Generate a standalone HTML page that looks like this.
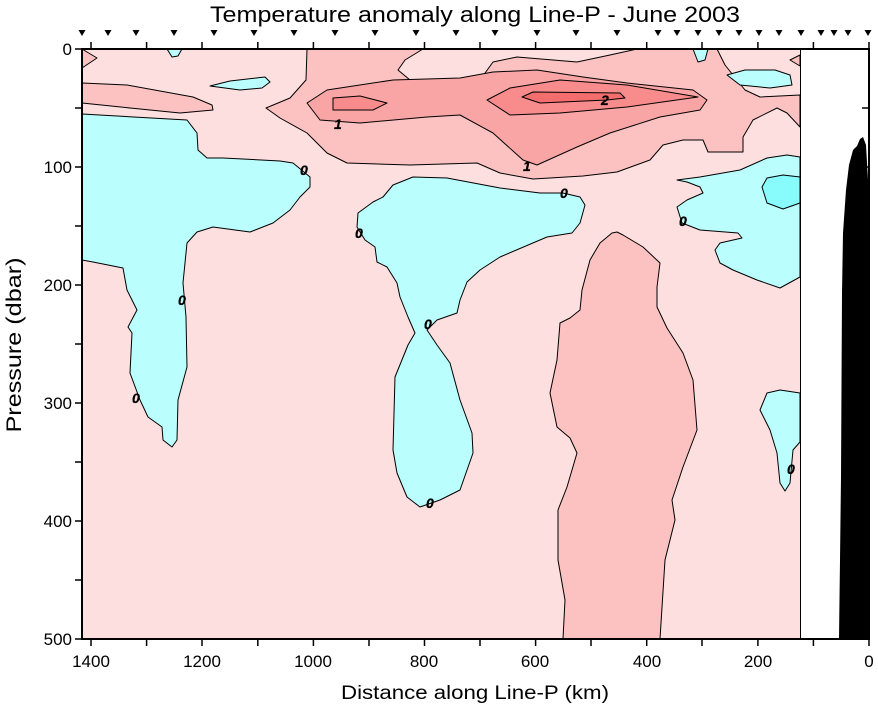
<!DOCTYPE html>
<html><head><meta charset="utf-8"><style>
html,body{margin:0;padding:0;background:#fff;}
svg{display:block;}
text{font-family:"Liberation Sans",Arial,sans-serif;fill:#000;}
</style></head><body>
<svg width="878" height="708" viewBox="0 0 878 708" xmlns="http://www.w3.org/2000/svg">
<g stroke="#000" stroke-width="1" stroke-linejoin="round">
<rect x="82" y="49" width="718" height="590" fill="#fddfdf" stroke="none"/>
<polygon fill="#fcc2c2" points="82,49 97,58 82,68"/>
<polygon fill="#fcc2c2" points="82,83 127,85 193,97 212,105 213,110 180,113 130,108 82,103"/>
<polygon fill="#fcc2c2" points="307,49 423,49 405,60 398,70 410,80 450,82 480,80 493,62 517,57 577,62 610,55 637,49 717,49 725,65 745,90 760,97 800,95 800,127 787,113 777,108 753,120 743,137 743,152 708,152 703,140 683,140 663,145 650,160 617,172 583,176 533,179 500,173 477,163 410,165 347,163 327,153 307,133 280,118 266,108 290,98 306,80"/>
<polygon fill="#fcc2c2" points="800,55 790,60 800,66"/>
<polygon fill="#f9a5a5" points="307,103 327,90 393,80 460,78 493,72 537,70 583,77 627,83 693,90 707,100 700,110 660,117 610,133 577,147 537,165 523,160 493,133 460,115 427,117 360,123 320,120"/>
<polygon fill="#f88b8b" points="333,98 360,96 387,103 373,110 333,110"/>
<polygon fill="#f88b8b" points="487,100 510,88 560,80 627,85 698,97 627,107 560,113 510,115"/>
<polygon fill="#f56e6e" points="522,97 533,92 620,93 625,98 607,100 540,103"/>
<polygon fill="#fcc2c2" points="612,233 617,232 623,235 643,247 660,263 657,287 657,307 667,328 683,353 693,380 697,430 683,467 672,500 675,520 665,560 660,639 563,639 565,600 558,560 558,510 567,487 577,453 570,438 557,427 550,393 557,360 560,323 570,318 580,310 582,290 590,260 600,243"/>
<polygon fill="#bbfefe" points="82,114 187,120 197,133 198,150 207,158 223,158 280,161 293,163 310,177 310,187 300,197 290,210 273,223 250,232 213,227 197,232 187,243 183,283 186,317 187,367 178,400 177,440 172,447 163,440 162,427 148,417 140,400 130,373 132,333 128,327 137,310 127,290 123,268 93,262 82,260"/>
<polygon fill="#bbfefe" points="167,49 182,49 178,56 172,57"/>
<polygon fill="#bbfefe" points="210,86 230,81 265,77 270,82 262,88 240,90 225,88"/>
<polygon fill="#bbfefe" points="393,185 413,177 447,178 500,188 540,193 563,193 580,197 585,205 580,223 572,233 547,237 500,257 480,270 467,282 460,300 457,313 437,320 427,330 437,345 450,363 460,400 472,433 473,453 460,490 440,500 420,507 407,497 397,473 393,450 395,377 408,345 415,333 408,317 400,297 397,283 387,267 377,262 375,247 365,240 357,227 358,213 373,202 383,197"/>
<polygon fill="#bbfefe" points="677,180 700,177 740,170 767,158 787,155 800,157 800,277 780,288 757,280 733,270 720,263 715,250 720,243 742,238 738,233 700,230 682,223 677,207 687,200 703,193 700,187 687,182"/>
<polygon fill="#88fcfc" points="762,187 767,178 783,175 800,177 800,203 783,209 767,203"/>
<polygon fill="#bbfefe" points="760,410 767,393 780,390 800,393 800,442 793,450 790,483 785,491 780,483 777,453 770,430"/>
<polygon fill="#bbfefe" points="693,49 708,49 705,60 698,62"/>
<polygon fill="#bbfefe" points="727,75 745,70 775,70 790,75 792,85 770,88 740,85"/>
</g>
<rect x="800.5" y="49" width="69" height="590" fill="#fff"/>
<line x1="800.5" y1="49" x2="800.5" y2="639" stroke="#000"/>
<polygon fill="#000" points="839,639 840,560 841,477 842,293 843,233 846,190 849,165 853,150 857,146 860,139 863,137 866,145 868,180 869,639"/>
<g font-size="14" font-weight="bold" font-style="italic" stroke="#000" stroke-width="0.3">
<text x="334" y="129">1</text>
<text x="523" y="171">1</text>
<text x="601" y="105">2</text>
<text x="300" y="175">0</text>
<text x="560" y="198">0</text>
<text x="355" y="238">0</text>
<text x="679" y="226">0</text>
<text x="178" y="305">0</text>
<text x="132" y="403">0</text>
<text x="424" y="329">0</text>
<text x="426" y="508">0</text>
<text x="787" y="474">0</text>
</g>
<g stroke="#000" stroke-width="2" fill="none">
<line x1="82" y1="49" x2="869" y2="49"/>
<line x1="82" y1="639" x2="869" y2="639"/>
<line x1="82" y1="48" x2="82" y2="640"/>
<line x1="869" y1="48" x2="869" y2="640"/>
</g>
<g stroke="#000" stroke-width="1.5">
<line x1="91" y1="49" x2="91" y2="42"/><line x1="146.6" y1="49" x2="146.6" y2="42"/><line x1="202" y1="49" x2="202" y2="42"/><line x1="257.8" y1="49" x2="257.8" y2="42"/><line x1="313.4" y1="49" x2="313.4" y2="42"/><line x1="369" y1="49" x2="369" y2="42"/><line x1="424.5" y1="49" x2="424.5" y2="42"/><line x1="480" y1="49" x2="480" y2="42"/><line x1="535.6" y1="49" x2="535.6" y2="42"/><line x1="591" y1="49" x2="591" y2="42"/><line x1="646.7" y1="49" x2="646.7" y2="42"/><line x1="702" y1="49" x2="702" y2="42"/><line x1="757.9" y1="49" x2="757.9" y2="42"/><line x1="813.4" y1="49" x2="813.4" y2="42"/><line x1="869" y1="49" x2="869" y2="42"/>
<line x1="91" y1="639" x2="91" y2="646"/><line x1="146.6" y1="639" x2="146.6" y2="646"/><line x1="202" y1="639" x2="202" y2="646"/><line x1="257.8" y1="639" x2="257.8" y2="646"/><line x1="313.4" y1="639" x2="313.4" y2="646"/><line x1="369" y1="639" x2="369" y2="646"/><line x1="424.5" y1="639" x2="424.5" y2="646"/><line x1="480" y1="639" x2="480" y2="646"/><line x1="535.6" y1="639" x2="535.6" y2="646"/><line x1="591" y1="639" x2="591" y2="646"/><line x1="646.7" y1="639" x2="646.7" y2="646"/><line x1="702" y1="639" x2="702" y2="646"/><line x1="757.9" y1="639" x2="757.9" y2="646"/><line x1="813.4" y1="639" x2="813.4" y2="646"/><line x1="869" y1="639" x2="869" y2="646"/>
<line x1="75" y1="49" x2="82" y2="49"/><line x1="75" y1="108" x2="82" y2="108"/><line x1="75" y1="167" x2="82" y2="167"/><line x1="75" y1="226" x2="82" y2="226"/><line x1="75" y1="285" x2="82" y2="285"/><line x1="75" y1="344" x2="82" y2="344"/><line x1="75" y1="403" x2="82" y2="403"/><line x1="75" y1="462" x2="82" y2="462"/><line x1="75" y1="521" x2="82" y2="521"/><line x1="75" y1="580" x2="82" y2="580"/><line x1="75" y1="639" x2="82" y2="639"/>
<line x1="862" y1="108" x2="869" y2="108"/><line x1="862" y1="167" x2="869" y2="167"/><line x1="862" y1="226" x2="869" y2="226"/><line x1="862" y1="285" x2="869" y2="285"/><line x1="862" y1="344" x2="869" y2="344"/><line x1="862" y1="403" x2="869" y2="403"/><line x1="862" y1="462" x2="869" y2="462"/><line x1="862" y1="521" x2="869" y2="521"/><line x1="862" y1="580" x2="869" y2="580"/>
</g>
<g fill="#000">
<path d="M78.5 30h7l-3.5 6z"/><path d="M104.5 30h7l-3.5 6z"/><path d="M132.5 30h7l-3.5 6z"/><path d="M170.5 30h7l-3.5 6z"/><path d="M210.5 30h7l-3.5 6z"/><path d="M250.5 30h7l-3.5 6z"/><path d="M290.5 30h7l-3.5 6z"/><path d="M331.5 30h7l-3.5 6z"/><path d="M371.5 30h7l-3.5 6z"/><path d="M412.5 30h7l-3.5 6z"/><path d="M452.5 30h7l-3.5 6z"/><path d="M491.5 30h7l-3.5 6z"/><path d="M533.5 30h7l-3.5 6z"/><path d="M572.5 30h7l-3.5 6z"/><path d="M613.5 30h7l-3.5 6z"/><path d="M654.5 30h7l-3.5 6z"/><path d="M673.5 30h7l-3.5 6z"/><path d="M694.5 30h7l-3.5 6z"/><path d="M715.5 30h7l-3.5 6z"/><path d="M735.5 30h7l-3.5 6z"/><path d="M755.5 30h7l-3.5 6z"/><path d="M775.5 30h7l-3.5 6z"/><path d="M797.5 30h7l-3.5 6z"/><path d="M817.5 30h7l-3.5 6z"/><path d="M830.5 30h7l-3.5 6z"/><path d="M844.5 30h7l-3.5 6z"/><path d="M864.5 30h7l-3.5 6z"/>
</g>
<text x="475" y="22" font-size="22" text-anchor="middle" textLength="530" lengthAdjust="spacingAndGlyphs">Temperature anomaly along Line-P - June 2003</text>
<g font-size="17" text-anchor="end">
<text x="72" y="55">0</text><text x="72" y="173">100</text><text x="72" y="291">200</text><text x="72" y="409">300</text><text x="72" y="527">400</text><text x="72" y="645">500</text>
</g>
<g font-size="17" text-anchor="middle">
<text x="91" y="667">1400</text><text x="202" y="667">1200</text><text x="313" y="667">1000</text><text x="424" y="667">800</text><text x="535" y="667">600</text><text x="647" y="667">400</text><text x="758" y="667">200</text><text x="869" y="667">0</text>
</g>
<text x="475" y="699" font-size="19" text-anchor="middle" textLength="268" lengthAdjust="spacingAndGlyphs">Distance along Line-P (km)</text>
<text transform="translate(21,345) rotate(-90)" font-size="21" text-anchor="middle" textLength="175" lengthAdjust="spacingAndGlyphs">Pressure (dbar)</text>
</svg>
</body></html>
